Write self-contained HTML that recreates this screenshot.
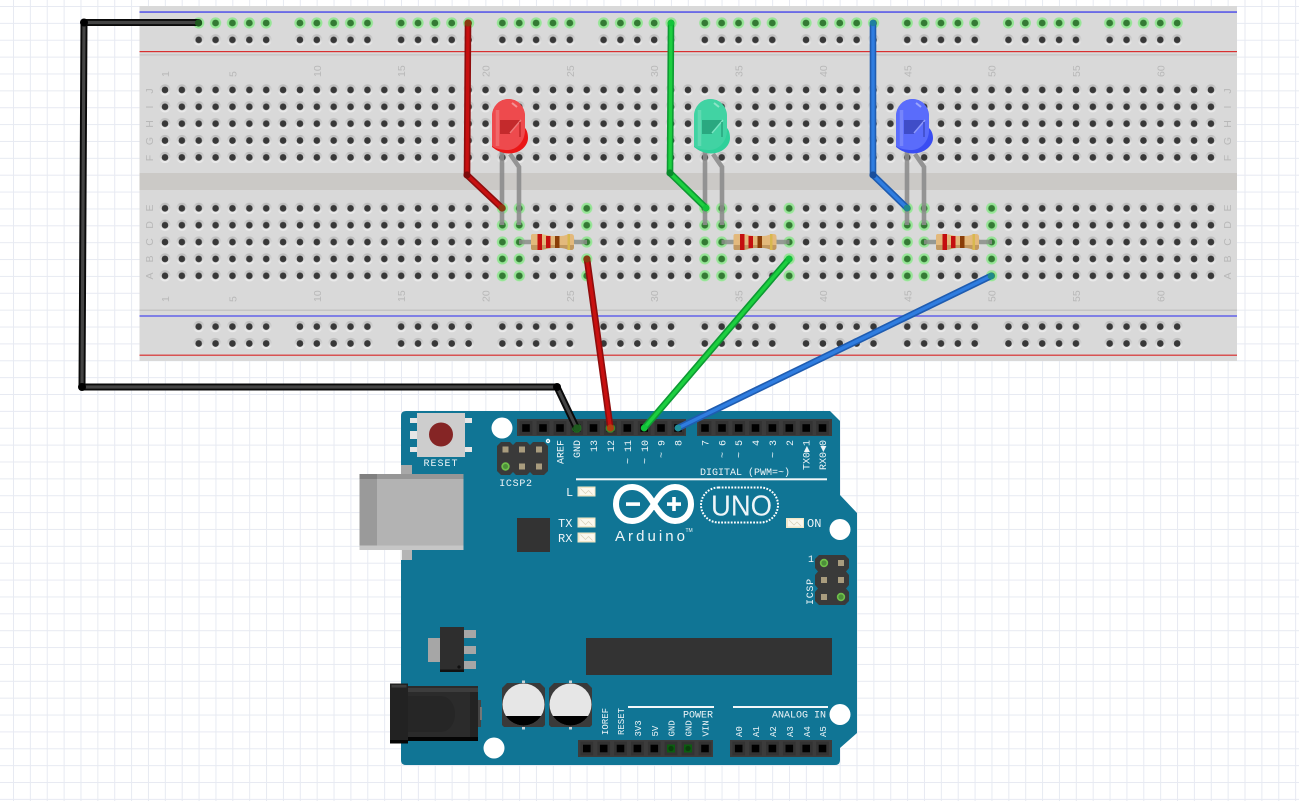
<!DOCTYPE html>
<html><head><meta charset="utf-8"><title>Arduino LED circuit</title>
<style>
html,body{margin:0;padding:0;background:#fff;width:1299px;height:801px;overflow:hidden}
svg{display:block}
.n{font:10.5px "Liberation Sans",sans-serif;fill:#b8b8b8}
.l{font:10.5px "Liberation Sans",sans-serif;fill:#b8b8b8;text-anchor:middle}
.m{font:10px "Liberation Mono",monospace;fill:#eef5f8}
.s{font:9px "Liberation Mono",monospace;fill:#eef5f8}
.b{font:12px "Liberation Mono",monospace;fill:#eef5f8}
</style></head><body>
<svg width="1299" height="801" viewBox="0 0 1299 801" xmlns="http://www.w3.org/2000/svg">
<defs>
<linearGradient id="ring" x1="0" y1="0" x2="0" y2="1"><stop offset="0" stop-color="#bababa"/><stop offset="1" stop-color="#f0f0f0"/></linearGradient>
<pattern id="grid" patternUnits="userSpaceOnUse" x="13" y="6" width="16.87" height="16.87"><path d="M0.5,0V16.87M0,0.5H16.87" stroke="#e7eaf2" stroke-width="1" fill="none"/></pattern>
<g id="h"><circle r="5.6" fill="url(#ring)"/><circle r="3.3" fill="#383838"/></g>
<g id="g"><circle r="5.6" fill="#96e596"/><circle r="3.4" fill="#347a34"/></g>
<pattern id="holes" patternUnits="userSpaceOnUse" x="156.57" y="81.5" width="16.87" height="16.87"><use href="#h" x="8.435" y="8.435"/></pattern>
<pattern id="holes2" patternUnits="userSpaceOnUse" x="156.57" y="199.9" width="16.87" height="16.87"><use href="#h" x="8.435" y="8.435"/></pattern>
<pattern id="green2" patternUnits="userSpaceOnUse" x="156.57" y="199.9" width="16.87" height="16.87"><use href="#g" x="8.435" y="8.435"/></pattern>
<g id="r5"><use href="#h" x="8.435" y="8.435"/><use href="#h" x="25.305" y="8.435"/><use href="#h" x="42.175" y="8.435"/><use href="#h" x="59.045" y="8.435"/><use href="#h" x="75.915" y="8.435"/></g>
<g id="g5"><use href="#g" x="8.435" y="8.435"/><use href="#g" x="25.305" y="8.435"/><use href="#g" x="42.175" y="8.435"/><use href="#g" x="59.045" y="8.435"/><use href="#g" x="75.915" y="8.435"/></g>
<pattern id="railT" patternUnits="userSpaceOnUse" x="190.27" y="14.57" width="101.22" height="16.87"><use href="#r5"/></pattern>
<pattern id="railG" patternUnits="userSpaceOnUse" x="190.27" y="14.57" width="101.22" height="16.87"><use href="#g5"/></pattern>
<pattern id="railB" patternUnits="userSpaceOnUse" x="190.27" y="318.2" width="101.22" height="16.87"><use href="#r5"/></pattern>
<g id="pin"><rect x="-6.4" y="-7" width="12.8" height="14" fill="#333"/><rect x="-3.8" y="-3.8" width="7.6" height="7.6" fill="#000"/></g>
<g id="tan"><rect x="-3" y="-3" width="6" height="6" fill="#a99c7e"/></g>
<g id="led"><rect x="0" y="0" width="18" height="10" fill="#f0e6c8"/><rect x="2" y="1.5" width="15" height="7" fill="#fbf8ee"/><path d="M3,2L8,7L11,4L15,8" stroke="#d8d0b8" stroke-width=".7" fill="none"/></g>
<g id="res">
<path d="M519,242H587" stroke="#8a8f88" stroke-width="4.4" opacity=".85"/>
<path d="M533,234H539C545,234 548,236 552,236H561C565,236 567,234 571,234C573,234 574,235 574,237V247C574,249 573,250 571,250C567,250 565,248 561,248H552C548,248 545,250 539,250H533C531,250 531,249 531,247V237C531,235 531,234 533,234Z" fill="#e3b97c"/>
<path d="M531,245H574V247C574,249 573,250 571,250C567,250 565,248 561,248H552C548,248 545,250 539,250H533C531,250 531,249 531,247Z" fill="#a67e48" opacity=".55"/>
<rect x="537.5" y="234" width="4.5" height="16" fill="#c40f0f"/><rect x="546" y="236" width="4.5" height="12" fill="#c40f0f"/><rect x="555" y="236" width="4.5" height="12" fill="#8a3d08"/><rect x="567.5" y="234" width="2.5" height="16" fill="#d8b84e"/>
</g>
</defs>

<rect width="1299" height="801" fill="#fff"/>
<rect width="1299" height="801" fill="url(#grid)"/>

<!-- breadboard -->
<rect x="139.5" y="6" width="1097.5" height="355" fill="#d9d9d9"/>
<rect x="139.5" y="173" width="1097.5" height="17" fill="#cbc9c6"/>
<rect x="139.5" y="11.3" width="1097.5" height="1.5" fill="#5050e8"/>
<rect x="139.5" y="51" width="1097.5" height="1.2" fill="#d83030"/>
<rect x="139.5" y="54.3" width="1097.5" height="1.2" fill="#c4c4c4"/>
<rect x="139.5" y="309.5" width="1097.5" height="1.5" fill="#c4c4c4"/>
<rect x="139.5" y="315.2" width="1097.5" height="1.6" fill="#6a6ae8"/>
<rect x="139.5" y="354.6" width="1097.5" height="1.2" fill="#d83030"/>

<rect x="156.57" y="81.5" width="1062.8" height="84.35" fill="url(#holes)"/>
<rect x="156.57" y="199.9" width="1062.8" height="84.35" fill="url(#holes2)"/>
<rect x="190.27" y="14.57" width="1012.2" height="33.74" fill="url(#railT)"/>
<rect x="190.27" y="318.2" width="1012.2" height="33.74" fill="url(#railB)"/>
<rect x="190.27" y="14.57" width="1012.2" height="16.87" fill="url(#railG)"/>
<g fill="url(#green2)">
<rect x="493.97" y="199.9" width="33.74" height="84.35"/>
<rect x="578.3" y="199.9" width="16.87" height="84.35"/>
<rect x="696.4" y="199.9" width="33.74" height="84.35"/>
<rect x="780.7" y="199.9" width="16.87" height="84.35"/>
<rect x="898.8" y="199.9" width="33.74" height="84.35"/>
<rect x="983.2" y="199.9" width="16.87" height="84.35"/>
</g>

<!-- breadboard labels -->
<g class="n">
<text transform="translate(169,77) rotate(-90)">1</text><text transform="translate(236.5,77) rotate(-90)">5</text><text transform="translate(320.8,77) rotate(-90)">10</text><text transform="translate(405.2,77) rotate(-90)">15</text><text transform="translate(489.5,77) rotate(-90)">20</text><text transform="translate(573.9,77) rotate(-90)">25</text><text transform="translate(658.2,77) rotate(-90)">30</text><text transform="translate(742.6,77) rotate(-90)">35</text><text transform="translate(826.9,77) rotate(-90)">40</text><text transform="translate(911.3,77) rotate(-90)">45</text><text transform="translate(995.6,77) rotate(-90)">50</text><text transform="translate(1080,77) rotate(-90)">55</text><text transform="translate(1164.3,77) rotate(-90)">60</text>
<text transform="translate(169,302) rotate(-90)">1</text><text transform="translate(236.5,302) rotate(-90)">5</text><text transform="translate(320.8,302) rotate(-90)">10</text><text transform="translate(405.2,302) rotate(-90)">15</text><text transform="translate(489.5,302) rotate(-90)">20</text><text transform="translate(573.9,302) rotate(-90)">25</text><text transform="translate(658.2,302) rotate(-90)">30</text><text transform="translate(742.6,302) rotate(-90)">35</text><text transform="translate(826.9,302) rotate(-90)">40</text><text transform="translate(911.3,302) rotate(-90)">45</text><text transform="translate(995.6,302) rotate(-90)">50</text><text transform="translate(1080,302) rotate(-90)">55</text><text transform="translate(1164.3,302) rotate(-90)">60</text>
</g>
<g class="l">
<text transform="translate(153,91) rotate(-90)">J</text><text transform="translate(153,107) rotate(-90)">I</text><text transform="translate(153,124) rotate(-90)">H</text><text transform="translate(153,141) rotate(-90)">G</text><text transform="translate(153,158) rotate(-90)">F</text>
<text transform="translate(153,208) rotate(-90)">E</text><text transform="translate(153,225) rotate(-90)">D</text><text transform="translate(153,242) rotate(-90)">C</text><text transform="translate(153,259) rotate(-90)">B</text><text transform="translate(153,276) rotate(-90)">A</text>
<text transform="translate(1231,91) rotate(-90)">J</text><text transform="translate(1231,107) rotate(-90)">I</text><text transform="translate(1231,124) rotate(-90)">H</text><text transform="translate(1231,141) rotate(-90)">G</text><text transform="translate(1231,158) rotate(-90)">F</text>
<text transform="translate(1231,208) rotate(-90)">E</text><text transform="translate(1231,225) rotate(-90)">D</text><text transform="translate(1231,242) rotate(-90)">C</text><text transform="translate(1231,259) rotate(-90)">B</text><text transform="translate(1231,276) rotate(-90)">A</text>
</g>

<!-- LED legs -->
<g fill="none" stroke="#8c8c8c" stroke-width="4.6" opacity=".9">
<path d="M502,150V225M510,154L519,167V225"/>
<path d="M705,150V225M713,154L722,167V225"/>
<path d="M907,150V225M915,154L924,167V225"/>
</g>

<!-- resistors -->
<use href="#res"/><use href="#res" x="202.5"/><use href="#res" x="405"/>

<!-- LEDs -->
<g>
<path d="M492,147C497,151 503,153.5 509,153.5C520,153.5 528,146 528,138C528,132 526,129 525,128V116A16.5,17 0 0 0 492,116Z" fill="#ea1616"/>
<path d="M492,146V116A16.5,17 0 0 1 525,116V130C525,142 516,150 508,150C502,150 496,149 492,146Z" fill="#ee4a4d"/>
<path d="M500,120H521L510,134H500Z" fill="#c42a2c"/><path d="M521,120L510,133" stroke="#ee7a7a" stroke-width="1.4" fill="none"/><path d="M520,122V137" stroke="#c42a2c" stroke-width="1.6" fill="none"/>
<path d="M497.5,110V146" stroke="#fff" stroke-width="3.5" opacity=".17"/><path d="M512,103L517,107" stroke="#fff" stroke-width="2" opacity=".4"/>
</g>
<g transform="translate(202,0)">
<path d="M492,147C497,151 503,153.5 509,153.5C520,153.5 528,146 528,138C528,132 526,129 525,128V116A16.5,17 0 0 0 492,116Z" fill="#2fd09a"/>
<path d="M492,146V116A16.5,17 0 0 1 525,116V130C525,142 516,150 508,150C502,150 496,149 492,146Z" fill="#41d3a3"/>
<path d="M500,120H521L510,134H500Z" fill="#2aa880"/><path d="M521,120L510,133" stroke="#7ee6c4" stroke-width="1.4" fill="none"/><path d="M520,122V137" stroke="#2aa880" stroke-width="1.6" fill="none"/>
<path d="M497.5,110V146" stroke="#fff" stroke-width="3.5" opacity=".17"/><path d="M512,103L517,107" stroke="#fff" stroke-width="2" opacity=".4"/>
</g>
<g transform="translate(404,0)">
<path d="M492,147C497,151 503,153.5 509,153.5C520,153.5 529,146 529,138C529,132 526,129 525,128V116A16.5,17 0 0 0 492,116Z" fill="#3a4df2"/>
<path d="M492,146V116A16.5,17 0 0 1 525,116V130C525,142 516,150 508,150C502,150 496,149 492,146Z" fill="#5a6cfb"/>
<path d="M500,120H521L510,134H500Z" fill="#3f4dc8"/><path d="M521,120L510,133" stroke="#8f9bfb" stroke-width="1.4" fill="none"/><path d="M520,122V137" stroke="#3f4dc8" stroke-width="1.6" fill="none"/>
<path d="M497.5,110V146" stroke="#fff" stroke-width="3.5" opacity=".17"/><path d="M512,103L517,107" stroke="#fff" stroke-width="2" opacity=".4"/>
</g>

<!-- ARDUINO BOARD -->
<path d="M406,411H830L840,421V495L857,513V733L840,748V760Q840,765 835,765H406Q401,765 401,760V416Q401,411 406,411Z" fill="#107595"/>
<g fill="#fff">
<circle cx="502" cy="428" r="10.5"/><circle cx="840" cy="529.5" r="10.5"/><circle cx="840" cy="714.5" r="10.5"/><circle cx="494" cy="748" r="10.5"/>
</g>

<!-- reset -->
<g fill="#e6e6e6"><rect x="410" y="418" width="7" height="5"/><rect x="410" y="431" width="7" height="8"/><rect x="410" y="447" width="7" height="5"/><rect x="465" y="418" width="7" height="5"/><rect x="465" y="447" width="7" height="5"/></g>
<rect x="417" y="413" width="48" height="44" fill="#cdcdcd"/>
<circle cx="441" cy="434.5" r="12" fill="#852525"/>

<!-- USB -->
<rect x="401" y="465" width="11" height="10" fill="#a8a8a8"/><rect x="401" y="550" width="11" height="10" fill="#b4b4b4"/><rect x="400.5" y="550" width="1.5" height="10" fill="#eee"/>
<rect x="359.5" y="474" width="104" height="76" fill="#b3b3b3"/>
<rect x="359.5" y="474" width="17.5" height="76" fill="#9a9a9a"/>
<rect x="359.5" y="474" width="104" height="5" fill="#8f8f8f" opacity=".8"/>
<rect x="359.5" y="545.5" width="104" height="4.5" fill="#c6c6c6"/>
<rect x="359.5" y="474" width="17.5" height="5" fill="#808080"/>

<!-- ICSP2 -->
<path d="M501,442H510L513,445V472L510,475H501L497,471V446Z M516,442H527L530,445V472L527,475H516L513,472V445Z M533,442H544L548,446V471L544,475H533L530,472V445Z" fill="#3a3a3a"/>
<use href="#tan" x="505.5" y="449.5"/><use href="#tan" x="522" y="449.5"/><use href="#tan" x="539" y="449.5"/><use href="#tan" x="522" y="466.5"/><use href="#tan" x="539" y="466.5"/>
<circle cx="505.5" cy="466.5" r="4.2" fill="#6fc04a"/><circle cx="505.5" cy="466.5" r="2.5" fill="#4d8f3a"/>
<circle cx="548" cy="441" r="2.2" fill="#fff"/><circle cx="548" cy="441" r=".8" fill="#107595"/>

<!-- headers -->
<rect x="517" y="419" width="169" height="17" fill="#3c3c3c"/>
<rect x="697" y="419" width="135" height="17" fill="#3c3c3c"/>
<rect x="578" y="740" width="135" height="17" fill="#3c3c3c"/>
<rect x="730" y="740" width="102" height="17" fill="#3c3c3c"/>
<g transform="translate(0,428)">
<use href="#pin" x="526"/><use href="#pin" x="543"/><use href="#pin" x="560"/><use href="#pin" x="576.7"/><use href="#pin" x="593.5"/><use href="#pin" x="610.4"/><use href="#pin" x="627.3"/><use href="#pin" x="644.2"/><use href="#pin" x="661"/><use href="#pin" x="678"/>
<use href="#pin" x="705"/><use href="#pin" x="722"/><use href="#pin" x="738.7"/><use href="#pin" x="755.5"/><use href="#pin" x="772.4"/><use href="#pin" x="789.3"/><use href="#pin" x="806.2"/><use href="#pin" x="822.5"/>
</g>
<g transform="translate(0,748.5)">
<use href="#pin" x="586.8"/><use href="#pin" x="603.7"/><use href="#pin" x="620.5"/><use href="#pin" x="637.4"/><use href="#pin" x="654.3"/><use href="#pin" x="671"/><use href="#pin" x="688"/><use href="#pin" x="705"/>
<use href="#pin" x="738.7"/><use href="#pin" x="755.5"/><use href="#pin" x="772.4"/><use href="#pin" x="789.3"/><use href="#pin" x="806.2"/><use href="#pin" x="822.5"/>
</g>
<rect x="667" y="744.5" width="8" height="8" fill="#0c5c10"/><circle cx="671" cy="748.5" r="2.6" fill="#0a3f0c"/>
<rect x="684" y="744.5" width="8" height="8" fill="#0c5c10"/><circle cx="688" cy="748.5" r="2.6" fill="#0a3f0c"/>

<!-- ICSP -->
<path d="M819,555H845L849,559V568L846,571.5L849,575V585L846,588.5L849,592V601L845,605H819L815,601V592L818,588.5L815,585V575L818,571.5L815,568V559Z" fill="#3a3a3a"/>
<use href="#tan" x="841" y="563"/><use href="#tan" x="824" y="580"/><use href="#tan" x="841" y="580"/><use href="#tan" x="824" y="597"/>
<circle cx="824" cy="563" r="4.2" fill="#6fc04a"/><circle cx="824" cy="563" r="2.6" fill="#4d8f3a"/>
<circle cx="841" cy="597" r="4.2" fill="#6fc04a"/><circle cx="841" cy="597" r="2.6" fill="#4d8f3a"/>

<!-- chips -->
<rect x="517" y="518" width="33" height="34" fill="#333"/>
<rect x="586" y="638" width="246" height="37" fill="#333"/>

<!-- small LEDs -->
<use href="#led" x="577.5" y="486.5"/><use href="#led" x="577.5" y="517.5"/><use href="#led" x="577.5" y="532.5"/><use href="#led" x="786" y="518"/>

<!-- lines -->
<g fill="#f2f7f9"><rect x="576" y="478.3" width="251" height="2"/><rect x="628" y="706" width="86" height="2"/><rect x="733" y="706" width="95" height="2"/></g>

<!-- logo -->
<path d="M654,504C648,494 642,487 632,487C622,487 616,495 616,504C616,513 622,521 632,521C642,521 648,514 654,504C660,494 666,487 675,487C685,487 691,495 691,504C691,513 685,521 675,521C666,521 660,514 654,504Z" fill="none" stroke="#fff" stroke-width="6"/>
<rect x="626" y="502.3" width="14" height="3.6" fill="#fff"/>
<rect x="667" y="502.3" width="14" height="3.6" fill="#fff"/><rect x="672.2" y="497" width="3.6" height="14" fill="#fff"/>
<text x="615" y="541" style="font:15px 'Liberation Sans',sans-serif;fill:#f0f6f8" textLength="70" lengthAdjust="spacing">Arduino</text>
<text x="685.5" y="532" style="font:5px 'Liberation Sans',sans-serif;fill:#f0f6f8">TM</text>
<rect x="701" y="487.5" width="77" height="35" rx="17.5" fill="none" stroke="#fff" stroke-width="2" stroke-dasharray="1.8 1.4"/>
<text x="711" y="515.5" style="font:29px 'Liberation Sans',sans-serif;fill:#eef5f8" textLength="61" lengthAdjust="spacingAndGlyphs">UNO</text>

<!-- regulator -->
<rect x="428" y="638" width="12" height="24" fill="#a6a6a6"/>
<rect x="464" y="630" width="12" height="8" fill="#a6a6a6"/><rect x="464" y="646" width="12" height="8" fill="#a6a6a6"/><rect x="464" y="661" width="12" height="8" fill="#a6a6a6"/>
<rect x="440" y="627" width="24" height="45" fill="#2e2e2e"/><rect x="440" y="669.5" width="24" height="2.5" fill="#111"/><circle cx="459" cy="667" r="1.6" fill="#111"/>

<!-- jack -->
<rect x="478" y="700" width="3" height="27" fill="#444"/><rect x="480" y="707" width="2" height="13" fill="#777"/>
<rect x="408" y="686" width="70" height="55" fill="#2b2b2b"/>
<rect x="408" y="688" width="70" height="4" fill="#3d3d3d"/>
<path d="M408,696H440C450,696 455,705 455,714C455,723 450,732 440,732H408Z" fill="#262626"/>
<rect x="470" y="692" width="8" height="45" fill="#232323"/>
<rect x="408" y="737" width="70" height="4" fill="#050505"/>
<rect x="390" y="683.5" width="18" height="60" fill="#222"/><rect x="391.5" y="685" width="15" height="2.5" fill="#3d3d3d"/><rect x="390" y="740" width="18" height="3.5" fill="#050505"/>

<!-- capacitors -->
<g>
<rect x="522" y="680.5" width="3" height="3" fill="#c6d4d9"/><rect x="522" y="726.5" width="3" height="3" fill="#c6d4d9"/>
<path d="M507,683H540L545,688V725L543,727H504L502,725V688Z" fill="#3a3a3a"/>
<circle cx="523.5" cy="704.5" r="21" fill="#e6e6e6"/>
<path d="M505.9,716A21,21 0 0 0 541.1,716Z" fill="#000"/>
</g>
<g transform="translate(47,0)">
<rect x="522" y="680.5" width="3" height="3" fill="#c6d4d9"/><rect x="522" y="726.5" width="3" height="3" fill="#c6d4d9"/>
<path d="M507,683H540L545,688V725L543,727H504L502,725V688Z" fill="#3a3a3a"/>
<circle cx="523.5" cy="704.5" r="21" fill="#e6e6e6"/>
<path d="M505.9,716A21,21 0 0 0 541.1,716Z" fill="#000"/>
</g>

<!-- board text -->
<text class="m" x="441" y="466" text-anchor="middle" letter-spacing="1">RESET</text>
<text class="m" x="516" y="486" text-anchor="middle" letter-spacing=".7">ICSP2</text>
<text class="b" x="566" y="496">L</text>
<text class="b" x="558" y="527">TX</text>
<text class="b" x="558" y="542">RX</text>
<text class="b" x="807" y="527">ON</text>
<text class="m" x="808" y="562">1</text>
<text class="m" x="700" y="475">DIGITAL (PWM=~)</text>
<text class="m" x="683" y="717.5">POWER</text>
<text class="m" x="772" y="717.5">ANALOG IN</text>
<text class="m" transform="translate(813,605) rotate(-90)" letter-spacing=".7">ICSP</text>
<g class="m" text-anchor="end">
<text transform="translate(563.5,440) rotate(-90)">AREF</text>
<text transform="translate(580,440) rotate(-90)">GND</text>
<text transform="translate(597,440) rotate(-90)">13</text>
<text transform="translate(614,440) rotate(-90)">12</text>
<text transform="translate(631,440) rotate(-90)">~ 11</text>
<text transform="translate(648,440) rotate(-90)">~ 10</text>
<text transform="translate(664.5,440) rotate(-90)">~ 9</text>
<text transform="translate(681.5,440) rotate(-90)">8</text>
<text transform="translate(708.5,440) rotate(-90)">7</text>
<text transform="translate(725.5,440) rotate(-90)">~ 6</text>
<text transform="translate(742,440) rotate(-90)">~ 5</text>
<text transform="translate(759,440) rotate(-90)">4</text>
<text transform="translate(776,440) rotate(-90)">~ 3</text>
<text transform="translate(793,440) rotate(-90)">2</text>
<text transform="translate(809.5,440) rotate(-90)">TX0▶1</text>
<text transform="translate(826,440) rotate(-90)">RX0◀0</text>
</g>
<g class="s">
<text transform="translate(608,735) rotate(-90)">IOREF</text>
<text transform="translate(624,735) rotate(-90)">RESET</text>
<text transform="translate(641,736.5) rotate(-90)">3V3</text>
<text transform="translate(658,736.5) rotate(-90)">5V</text>
<text transform="translate(674.5,736.5) rotate(-90)">GND</text>
<text transform="translate(691.5,736.5) rotate(-90)">GND</text>
<text transform="translate(708.5,736.5) rotate(-90)">VIN</text>
<text transform="translate(742,737) rotate(-90)">A0</text>
<text transform="translate(759,737) rotate(-90)">A1</text>
<text transform="translate(776,737) rotate(-90)">A2</text>
<text transform="translate(793,737) rotate(-90)">A3</text>
<text transform="translate(810,737) rotate(-90)">A4</text>
<text transform="translate(826,737) rotate(-90)">A5</text>
</g>

<!-- connected pin highlights -->
<circle cx="576.7" cy="428" r="4.8" fill="#1f6a1f"/><circle cx="576.7" cy="428" r="2.5" fill="#0d3d0d"/>
<circle cx="610.4" cy="428" r="4.8" fill="#3c8a2a"/>

<!-- wires -->
<g fill="none" stroke-linecap="round" stroke-linejoin="round">
<path d="M198.5,22.5H84L82,387H557L576.5,428" stroke="#0a0a0a" stroke-width="7"/>
<path d="M198.5,22.5H84L82,387H557L576.5,428" stroke="#444" stroke-width="3.2"/>
<path d="M468,23L467,175L502,208" stroke="#8e0d0d" stroke-width="6.6"/>
<path d="M468,23L467,175L502,208" stroke="#c81010" stroke-width="3.4"/>
<path d="M587,259L610.4,428" stroke="#8e0d0d" stroke-width="6.6"/>
<path d="M587,259L610.4,428" stroke="#c81010" stroke-width="3.4"/>
<path d="M671,23L670,173L706,208" stroke="#0d9a33" stroke-width="6.6"/>
<path d="M671,23L670,173L706,208" stroke="#1ccf3f" stroke-width="3.4"/>
<path d="M789,259L644.2,428" stroke="#0d9a33" stroke-width="6.6"/>
<path d="M789,259L644.2,428" stroke="#1ccf3f" stroke-width="3.4"/>
<path d="M873,23V175L907,208" stroke="#1f5cb0" stroke-width="6.6"/>
<path d="M873,23V175L907,208" stroke="#2f7de0" stroke-width="3.4"/>
<path d="M991,276L678,428" stroke="#1f5cb0" stroke-width="6.6"/>
<path d="M991,276L678,428" stroke="#2f7de0" stroke-width="3.4"/>
</g>
<!-- wire joints and ends -->
<circle cx="84" cy="22.5" r="4" fill="#000"/><circle cx="82" cy="387" r="4" fill="#000"/><circle cx="557" cy="387" r="4" fill="#000"/>
<circle cx="198.5" cy="23" r="3.6" fill="#1e5a1e"/><circle cx="576.7" cy="428" r="3.6" fill="#1e5a1e"/>
<circle cx="467" cy="175" r="3.6" fill="#7d0a0a"/><circle cx="468" cy="23" r="3.6" fill="#8a3a10"/><circle cx="502" cy="208" r="3.6" fill="#8a3a10"/><circle cx="587" cy="259" r="3.6" fill="#8a3a10"/><circle cx="610.4" cy="428" r="3.6" fill="#b04010"/>
<circle cx="670" cy="173" r="3.6" fill="#0a8a2c"/><circle cx="706" cy="208" r="3.4" fill="#12c43a"/><circle cx="789" cy="259" r="3.4" fill="#12c43a"/><circle cx="644.2" cy="428" r="3.4" fill="#12c43a"/><circle cx="671" cy="23" r="3.2" fill="#12c43a"/>
<circle cx="873" cy="175" r="3.6" fill="#1a4f9c"/><circle cx="907" cy="208" r="3.4" fill="#1f8a8a"/><circle cx="991" cy="276" r="3.4" fill="#1f8a8a"/><circle cx="678" cy="428" r="3.4" fill="#1f8f9a"/><circle cx="873" cy="23" r="3.2" fill="#1f7fa0"/>
</svg>
</body></html>
